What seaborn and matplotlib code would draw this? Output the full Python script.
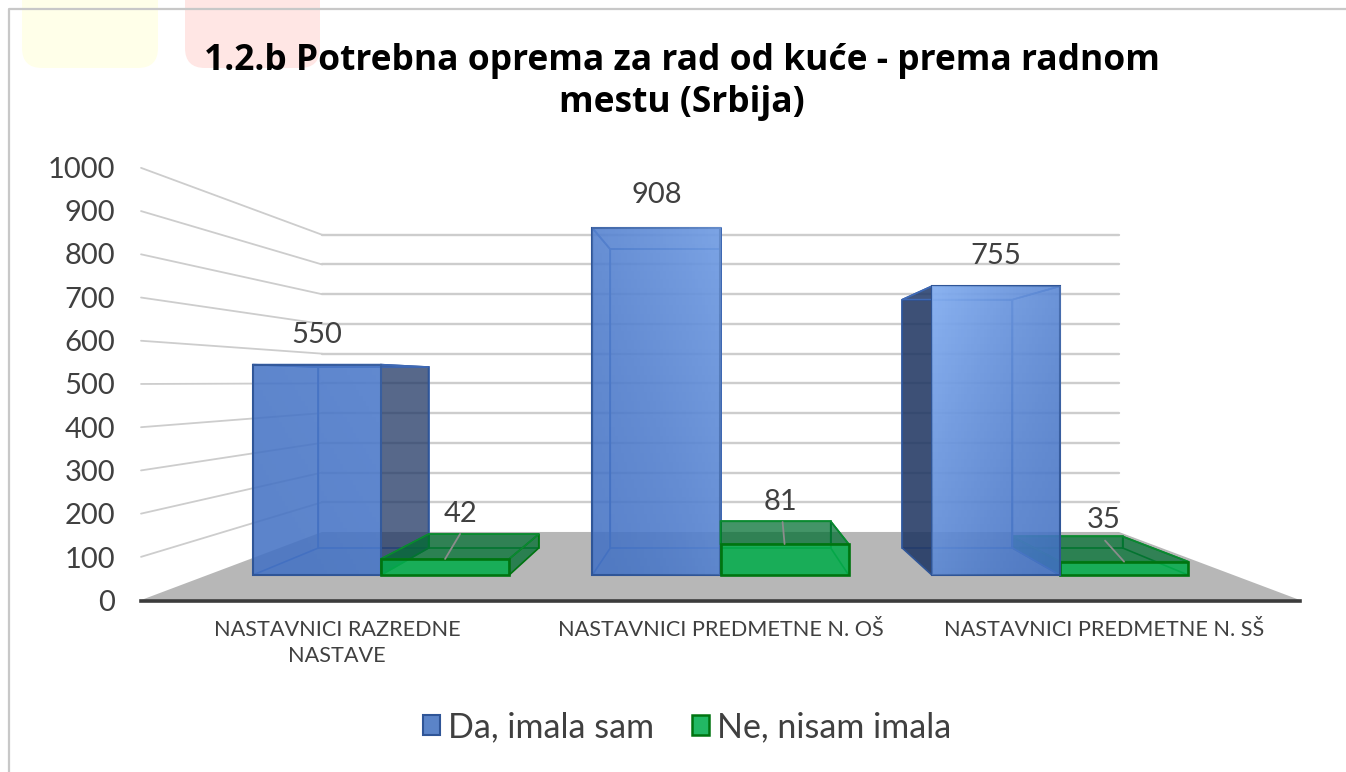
import numpy as np
import pandas as pd
import matplotlib
matplotlib.use("Agg")
import matplotlib.pyplot as plt
from matplotlib.colors import to_rgba
from matplotlib.patches import Polygon, FancyBboxPatch, Patch
import seaborn as sns

# ---- data ----
categories = ["NASTAVNICI RAZREDNE\nNASTAVE", "NASTAVNICI PREDMETNE N. OŠ", "NASTAVNICI PREDMETNE N. SŠ"]
series_names = ["Da, imala sam", "Ne, nisam imala"]
da_values = [550, 908, 755]
ne_values = [42, 81, 35]
y_ticks = [0, 100, 200, 300, 400, 500, 600, 700, 800, 900, 1000]
title_text = "1.2.b Potrebna oprema za rad od kuće - prema radnom\nmestu (Srbija)"

# ---- style ----
W, H = 1346, 772
BLUE, BLUE_EDGE, BLUE_DARK = "#4472C4", "#2F5597", "#1F3560"
GREEN, GREEN_EDGE, GREEN_DARK = "#04AC4C", "#007410", "#006B30"
FLOOR, GRID, TEXT = "#B7B7B7", "#CDCDCD", "#404040"
BODY_FONT = ["Lato", "DejaVu Sans"]

sns.set_theme(style="white")
plt.rcParams["font.family"] = BODY_FONT

def px_rect(x0, x1, ytop, ybot):
    return [x0 / W, 1 - ybot / H, (x1 - x0) / W, (ybot - ytop) / H]

fig = plt.figure(figsize=(W / 100, H / 100), dpi=100, facecolor="white")

# page decoration behind the chart
deco = fig.add_axes([0, 0, 1, 1], zorder=0)
deco.set_xlim(0, W); deco.set_ylim(H, 0); deco.axis("off")
deco.add_patch(FancyBboxPatch((22, -40), 136, 108, boxstyle="round,pad=0,rounding_size=20",
                              fc="#FFFFE9", ec="none"))
deco.add_patch(FancyBboxPatch((185, -40), 135, 108, boxstyle="round,pad=0,rounding_size=20",
                              fc="#FFE6E4", ec="none"))
deco.plot([9, 9, W], [H, 9, 9], color="#C8C8C8", lw=1.6)

# front axes: the plane in which the bars' front faces lie
ax = fig.add_axes(px_rect(207.7, 1233.3, 192.5, 575), zorder=2, facecolor="none")
# frame axes: the nearest plane of the 3-D box, holds the real axes and tick labels
frame = fig.add_axes(px_rect(141, 1300, 167, 600.5), zorder=3, facecolor="none")

XLIM = (-0.5105, 2.5105)
YLIM = (0, 1000)

df = pd.DataFrame({
    "category": categories * 2,
    "series": [series_names[0]] * 3 + [series_names[1]] * 3,
    "value": da_values + ne_values,
})
sns.barplot(data=df, x="category", y="value", hue="series", ax=ax, width=0.755, gap=0,
            palette=[BLUE, GREEN], saturation=1, legend=False)
ax.set_xlim(*XLIM); ax.set_ylim(*YLIM)
ax.axis("off")

# perspective: everything scales toward one vanishing point
XV, YV = 1.0, 504.5
S_BACK, S_BAR_BACK, S_NEAR = 0.777, 0.86, 1.13

def proj(x, v, s):
    return (XV + s * (x - XV), YV + s * (v - YV))

def poly(points, z, fc, alpha, ec="none", lw=1.2):
    ax.add_patch(Polygon(points, closed=True, zorder=z, clip_on=False,
                         facecolor=to_rgba(fc, alpha), edgecolor=ec, linewidth=lw))

# floor and walls
xl, xr = XLIM
poly([proj(xl, 0, S_NEAR), proj(xr, 0, S_NEAR), proj(xr, 0, S_BACK), proj(xl, 0, S_BACK)],
     1, FLOOR, 1.0)
for v in y_ticks:
    if v == 0:
        continue
    a, b, c = proj(xl, v, S_NEAR), proj(xl, v, S_BACK), proj(xr, v, S_BACK)
    ax.plot([a[0], b[0]], [a[1], b[1]], color=GRID, lw=1.3, zorder=1.5, clip_on=False)
    ax.plot([b[0], c[0]], [b[1], c[1]], color=GRID, lw=1.7, zorder=1.5, clip_on=False)

# the 3-D faces of each bar
def gradient_overlay(x0, x1, h, z, corner, strength):
    gx, gy = np.meshgrid(np.linspace(0, 1, 40), np.linspace(0, 1, 40))
    if corner == "left":
        gx = 1 - gx
    amt = (gx + gy) / 2
    img = np.ones((40, 40, 4))
    img[..., :3] = to_rgba("#9CC4FF")[:3]
    img[..., 3] = np.clip(amt, 0, 1) ** 1.5 * strength
    ax.imshow(img, extent=(x0, x1, 0, h), origin="lower", aspect="auto", zorder=z, clip_on=True)
    ax.set_xlim(*XLIM); ax.set_ylim(*YLIM)

gradient_corner = ["right", "right", "left"]
gradient_strength = [0.10, 0.50, 0.72]
for si, (container, edge, soft, dark, base) in enumerate(zip(
        ax.containers, [BLUE_EDGE, GREEN_EDGE], ["#3F69B5", "#0A8A30"],
        [BLUE_DARK, GREEN_DARK], [BLUE, GREEN])):
    for ci, bar in enumerate(container):
        x0, x1 = bar.get_x(), bar.get_x() + bar.get_width()
        h = bar.get_height()
        # the right-hand group stacks green under blue, the others blue under green
        order = (si if ci < 2 else 1 - si)
        z = 3 + ci * 2 + order * 0.8
        fr = lambda x, v: proj(x, v, S_BAR_BACK)
        bl, br, tl, tr = fr(x0, 0), fr(x1, 0), fr(x0, h), fr(x1, h)
        # back and floor faces
        poly([bl, br, tr, tl], z, base, 0.12, ec=soft)
        poly([(x0, 0), (x1, 0), br, bl], z + 0.01, base, 0.18)
        # side faces: dark only where they stick out past the front face
        right_out = x1 < XV - 0.001
        left_out = x0 > XV + 0.001
        poly([(x1, 0), br, tr, (x1, h)], z + 0.02, dark if right_out else base,
             0.72 if right_out else 0.10, ec=edge if right_out else soft)
        poly([(x0, 0), bl, tl, (x0, h)], z + 0.02, dark if left_out else base,
             0.85 if left_out else 0.10, ec=edge if left_out else soft)
        # top face
        poly([(x0, h), (x1, h), tr, tl], z + 0.03, dark if si == 1 else base,
             0.7 if si == 1 else 0.10, ec=soft)
        # front face, drawn by seaborn
        bar.set_zorder(z + 0.2)
        bar.set_facecolor(to_rgba(base, 0.86))
        bar.set_edgecolor(edge)
        bar.set_linewidth(1.5 if si == 0 else 1.9)
        bar.set_clip_on(False)
        if si == 0:
            gradient_overlay(x0, x1, h, z + 0.3, gradient_corner[ci], gradient_strength[ci])

# data labels
blue_offsets = [(0, 30), (0, 33), (0, 30)]
green_offsets = [(15, 45), (-4, 42), (-20, 42)]
leader_ends = [(15, 25), (-2, 22), (-19, 21)]
for si, (container, offs) in enumerate(zip(ax.containers, [blue_offsets, green_offsets])):
    for ci, bar in enumerate(container):
        cx = bar.get_x() + bar.get_width() / 2
        h = bar.get_height()
        dx, dy = offs[ci]
        ax.annotate(f"{h:.0f}", (cx, h), xytext=(dx * 0.72, dy * 0.72), textcoords="offset points",
                    ha="center", va="center", fontsize=21, color=TEXT, zorder=30,
                    annotation_clip=False)
        if si == 1:
            lx, ly = leader_ends[ci]
            ax.annotate("", (cx, h), xytext=(lx * 0.72, ly * 0.72), textcoords="offset points",
                        arrowprops=dict(arrowstyle="-", color="#8C8C8C", lw=1.3,
                                        shrinkA=0, shrinkB=0), zorder=30, annotation_clip=False)

# axes on the near plane
frame.set_xlim(*XLIM); frame.set_ylim(*YLIM)
frame.set_xticks([0, 1, 2], categories)
frame.set_yticks(y_ticks, [str(t) for t in y_ticks])
frame.tick_params(axis="y", length=0, pad=18.5, labelsize=21, labelcolor=TEXT)
frame.tick_params(axis="x", length=0, pad=14, labelsize=15.6, labelcolor=TEXT)
for lab in frame.get_xticklabels():
    lab.set_linespacing(1.35)
for s in ["top", "right", "left"]:
    frame.spines[s].set_visible(False)
frame.spines["bottom"].set_color("#3C3C3C")
frame.spines["bottom"].set_linewidth(2.6)
frame.set_xlabel(""); frame.set_ylabel("")

# title
fig.text(682 / W, 1 - 82 / H, title_text, ha="center", va="center", fontsize=25.5,
         fontweight="bold", color="black", family="Open Sans", linespacing=1.25, zorder=5)

# legend
handles = [Patch(fc="#5B84C8", ec=BLUE_EDGE, lw=1.5), Patch(fc="#22B864", ec=GREEN_EDGE, lw=1.8)]
fig.legend(handles, series_names, loc="center", bbox_to_anchor=(687 / W, 1 - 727 / H),
           ncol=2, frameon=False, fontsize=24.5, labelcolor=TEXT, handlelength=0.5,
           handleheight=0.5, handletextpad=0.25, columnspacing=1.1, borderpad=0)

fig.savefig("out.png", dpi=100)
